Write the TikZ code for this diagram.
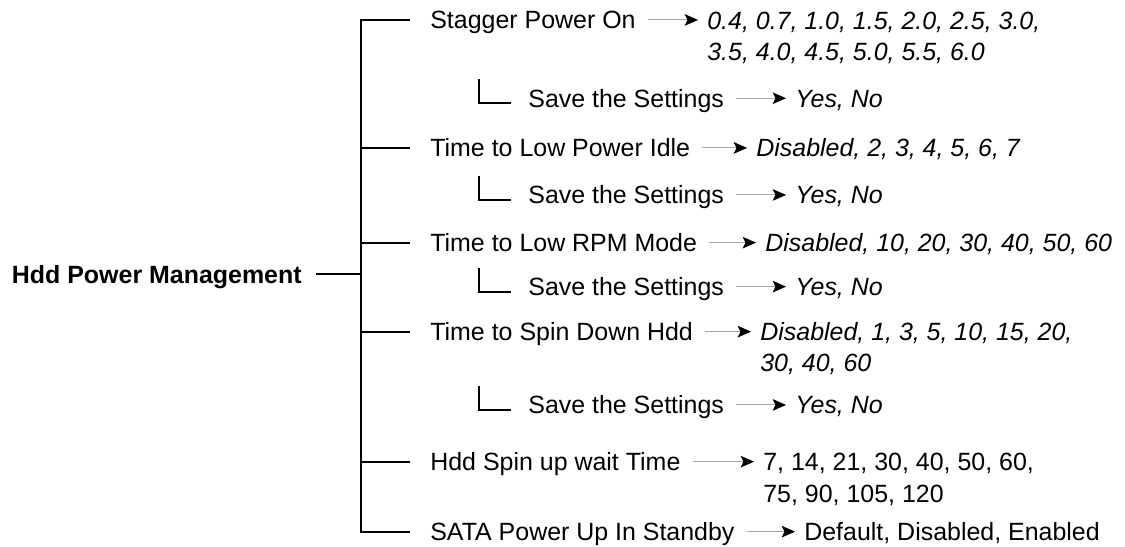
\documentclass[tikz,border=0pt]{standalone}
\usepackage{fontspec}
\setmainfont{Liberation Sans}
\usetikzlibrary{arrows.meta}

\begin{document}
\begin{tikzpicture}[x=0.02cm,y=-0.02cm,
  tree/.style={line width=1.2pt,line cap=rect},
  item/.style={anchor=base west,inner sep=0pt,text height=12.7pt,text depth=2.5pt,
    font=\fontsize{14.2}{17.9}\selectfont},
  opt/.style={item,align=left},
  val/.style={opt,font=\fontsize{14.2}{17.9}\selectfont\itshape},
  pick/.style={draw=gray!70,line width=0.6pt,-{Stealth[black,length=7.6pt,width=6.6pt,inset=1.6pt]},
    shorten <=6.8pt,shorten >=5.1pt}]
  \useasboundingbox (0,0) rectangle (1125,547);

  \node[anchor=base east,inner sep=0pt,text height=12.7pt,text depth=2.5pt,
    font=\bfseries\fontsize{14.2}{17.9}\selectfont] (root) at (302,283) {Hdd Power Management};
  \coordinate (trunk) at (361,274);

  % menu items
  \node[item] (stagger) at (430,28.9) {Stagger Power On};
  \node[item] (save1) at (528,107.2) {Save the Settings};
  \node[item] (lpidle) at (430,156.9) {Time to Low Power Idle};
  \node[item] (save2) at (528,203.9) {Save the Settings};
  \node[item] (lrpm) at (430,251.6) {Time to Low RPM Mode};
  \node[item] (save3) at (528,295.6) {Save the Settings};
  \node[item] (spindown) at (430,340.6) {Time to Spin Down Hdd};
  \node[item] (save4) at (528,413.9) {Save the Settings};
  \node[item] (spinup) at (430,470.6) {Hdd Spin up wait Time};
  \node[item] (sata) at (430,540.6) {SATA Power Up In Standby};

  % choices (multi-line ones sit on their last line)
  \node[val] (staggerv) at (707,61) {0.4, 0.7, 1.0, 1.5, 2.0, 2.5, 3.0,\\3.5, 4.0, 4.5, 5.0, 5.5, 6.0};
  \node[val] (save1v) at (795,107.2) {Yes, No};
  \node[val] (lpidlev) at (756,156.9) {Disabled, 2, 3, 4, 5, 6, 7};
  \node[val] (save2v) at (795,203.9) {Yes, No};
  \node[val] (lrpmv) at (765,251.6) {Disabled, 10, 20, 30, 40, 50, 60};
  \node[val] (save3v) at (795,295.6) {Yes, No};
  \node[val] (spindownv) at (760,371.5) {Disabled, 1, 3, 5, 10, 15, 20,\\30, 40, 60};
  \node[val] (save4v) at (795,413.9) {Yes, No};
  \node[opt] (spinupv) at (763,502) {7, 14, 21, 30, 40, 50, 60,\\75, 90, 105, 120};
  \node[opt] (satav) at (804,540.6) {Default, Disabled, Enabled};

  % tree
  \draw[tree] ([xshift=0.3cm]root.east) -- (root.east -| trunk);
  \draw[tree] (stagger.west -| trunk) -- (sata.west -| trunk);
  \foreach \n in {stagger,lpidle,lrpm,spindown,spinup,sata}
    \draw[tree] (\n.west -| trunk) -- ([xshift=-0.42cm]\n.west);
  \foreach \s in {save1,save2,save3,save4}
    \draw[tree] (\s.west) ++(-49,-18) |- ++(31,23);

  % arrows to the choices
  \foreach \n in {stagger,save1,lpidle,save2,lrpm,save3,spindown,save4,spinup,sata}
    \draw[pick] (\n.east) -- (\n.east -| \n v.west);
\end{tikzpicture}
\end{document}
